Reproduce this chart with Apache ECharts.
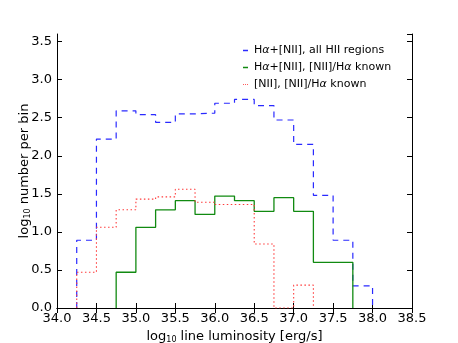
<!DOCTYPE html>
<html>
<head>
<meta charset="utf-8">
<script src="https://cdn.jsdelivr.net/npm/echarts@6/dist/echarts.min.js"></script>
<style>
  html, body { margin: 0; padding: 0; background: #fff; }
  #chart { width: 458px; height: 343px; }
</style>
</head>
<body>
<div id="chart"></div>
<script>
// bin edges (left edge of first bin) and log10 counts per 0.25-dex bin
const binWidth = 0.25;
const allStart = 34.25;
const allValues = [0.89, 2.22, 2.59, 2.54, 2.44, 2.55, 2.56, 2.69, 2.74, 2.66, 2.47, 2.15, 1.48, 0.89, 0.29];
const knownStart = 34.75;
const knownValues = [0.47, 1.06, 1.29, 1.41, 1.23, 1.47, 1.41, 1.27, 1.45, 1.27, 0.60, 0.60];
const niiStart = 34.25;
const niiValues = [0.47, 1.06, 1.29, 1.43, 1.46, 1.56, 1.39, 1.36, 1.36, 0.84, 0, 0.30];
const seriesNames = [
  'H{it|α}+[NII], all HII regions',
  'H{it|α}+[NII], [NII]/H{it|α} known',
  '[NII], [NII]/H{it|α} known'
];
const colors = ['#2a2aff', '#118a11', '#ff3b3b'];

// build step outline points: (edge, value) with a drop to 0 at both ends
function stepPoints(start, values) {
  const pts = [[start, 0]];
  values.forEach(function (v, i) {
    pts.push([start + i * binWidth, v]);
  });
  pts.push([start + values.length * binWidth, 0]);
  return pts;
}

const chart = echarts.init(document.getElementById('chart'));

const tickStyle = { inside: true, length: 5, lineStyle: { color: '#000' } };
const lineAxis = { show: true, lineStyle: { color: '#000', width: 1 } };
const font = 'DejaVu Sans';
const subRich = { sub: { fontFamily: font, fontSize: 8, verticalAlign: 'bottom', padding: [7, 0, 0, 0] } };

chart.setOption({
  animation: false,
  grid: { left: 57, right: 46, top: 34, bottom: 35, containLabel: false, outerBoundsMode: 'none' },
  legend: {
    orient: 'vertical',
    left: 238,
    top: 40,
    itemWidth: 5,
    itemHeight: 1.5,
    itemGap: 6,
    data: [
      { name: seriesNames[0], icon: 'rect' },
      { name: seriesNames[1], icon: 'rect' },
      { name: seriesNames[2], icon: 'path://M0,0h1v1h-1zM2.5,0h1v1h-1zM5,0h1v1h-1z' }
    ],
    textStyle: {
      fontFamily: font, fontSize: 11, color: '#000', padding: [0, 0, 0, 1],
      rich: { it: { fontFamily: font, fontStyle: 'italic', fontSize: 11 } }
    }
  },
  xAxis: [{
    type: 'value',
    min: 34, max: 38.5, interval: 0.5,
    axisLine: lineAxis,
    axisTick: tickStyle,
    splitLine: { show: false },
    axisLabel: {
      color: '#000', fontFamily: font, fontSize: 13, margin: 4,
      formatter: function (v) { return v.toFixed(1); }
    },
    name: 'log{sub|10} line luminosity [erg/s]',
    nameLocation: 'middle',
    nameGap: 21,
    nameMoveOverlap: false,
    nameTextStyle: { color: '#000', fontFamily: font, fontSize: 13, rich: subRich }
  }, {
    type: 'value', position: 'top',
    min: 34, max: 38.5, interval: 0.5,
    axisLine: lineAxis, axisTick: tickStyle,
    axisLabel: { show: false }, splitLine: { show: false }
  }],
  yAxis: [{
    type: 'value',
    min: 0, max: 3.6, interval: 0.5,
    axisLine: lineAxis,
    axisTick: tickStyle,
    splitLine: { show: false },
    axisLabel: {
      color: '#000', fontFamily: font, fontSize: 13, margin: 5, showMaxLabel: false,
      formatter: function (v) { return v.toFixed(1); }
    },
    name: 'log{sub|10} number per bin',
    nameLocation: 'middle',
    nameGap: 25,
    nameMoveOverlap: false,
    nameTextStyle: { color: '#000', fontFamily: font, fontSize: 13, rich: subRich }
  }, {
    type: 'value', position: 'right',
    min: 0, max: 3.6, interval: 0.5,
    axisLine: lineAxis, axisTick: tickStyle,
    axisLabel: { show: false }, splitLine: { show: false }
  }],
  series: [{
    name: seriesNames[0],
    type: 'line', step: 'end', symbol: 'none',
    data: stepPoints(allStart, allValues),
    lineStyle: { color: colors[0], width: 1.2, type: [6, 5] },
    itemStyle: { color: colors[0] }
  }, {
    name: seriesNames[1],
    type: 'line', step: 'end', symbol: 'none',
    data: stepPoints(knownStart, knownValues),
    lineStyle: { color: colors[1], width: 1.3 },
    itemStyle: { color: colors[1] }
  }, {
    name: seriesNames[2],
    type: 'line', step: 'end', symbol: 'none',
    data: stepPoints(niiStart, niiValues),
    lineStyle: { color: colors[2], width: 1.1, type: [1.5, 2.5] },
    itemStyle: { color: colors[2] }
  }]
});
</script>
</body>
</html>
